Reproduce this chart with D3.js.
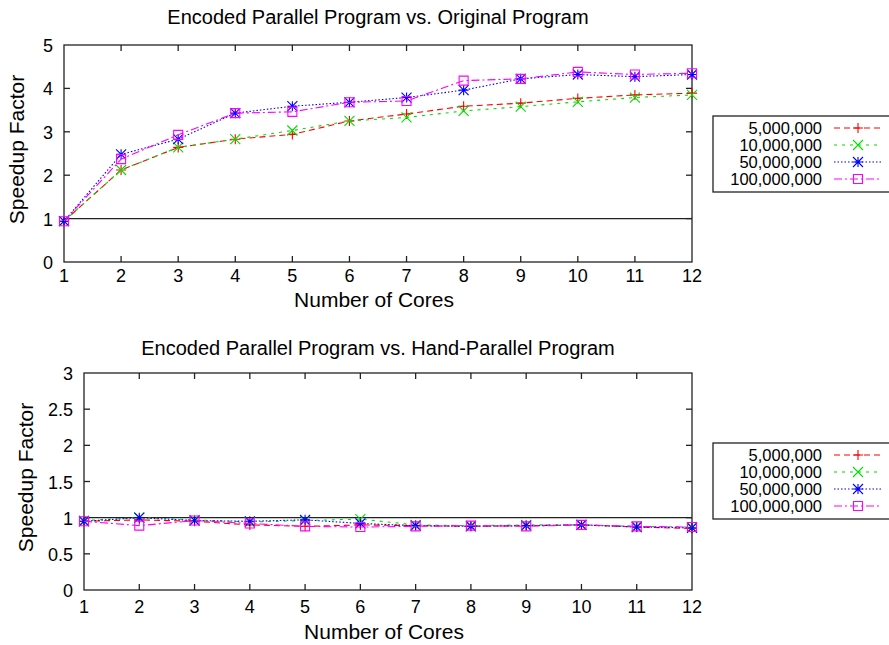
<!DOCTYPE html>
<html>
<head>
<meta charset="utf-8">
<script src="https://cdn.jsdelivr.net/npm/d3@7"></script>
<style>
  body { margin: 0; background: #fff; }
  svg { font-family: "Liberation Sans", Arial, sans-serif; }
</style>
</head>
<body>
<div id="chart"></div>
<script>
// 1. The data
const cores = [1, 2, 3, 4, 5, 6, 7, 8, 9, 10, 11, 12];
const seriesNames = ["5,000,000", "10,000,000", "50,000,000", "100,000,000"];

// speedup vs. original program
const origRed = [0.94, 2.12, 2.64, 2.83, 2.94, 3.25, 3.41, 3.59, 3.66, 3.77, 3.85, 3.89];
const origGreen = [0.94, 2.12, 2.64, 2.83, 3.03, 3.25, 3.33, 3.48, 3.58, 3.69, 3.79, 3.85];
const origBlue = [0.94, 2.48, 2.83, 3.43, 3.59, 3.68, 3.79, 3.96, 4.22, 4.32, 4.27, 4.32];
const origMagenta = [0.94, 2.37, 2.93, 3.43, 3.46, 3.68, 3.71, 4.18, 4.22, 4.38, 4.32, 4.35];

// speedup vs. hand-parallel program
const handRed = [0.95, 0.97, 0.95, 0.9, 0.88, 0.9, 0.89, 0.88, 0.89, 0.9, 0.87, 0.85];
const handGreen = [0.96, 1.0, 0.97, 0.94, 0.96, 0.98, 0.9, 0.89, 0.9, 0.9, 0.88, 0.87];
const handBlue = [0.95, 1.0, 0.96, 0.95, 0.97, 0.92, 0.89, 0.88, 0.89, 0.9, 0.87, 0.86];
const handMagenta = [0.95, 0.89, 0.96, 0.92, 0.88, 0.87, 0.88, 0.89, 0.88, 0.9, 0.88, 0.87];

const topYTicks = [0, 1, 2, 3, 4, 5];
const bottomYTicks = [0, 0.5, 1, 1.5, 2, 2.5, 3];

// 2. Styles for the four series (gnuplot-like)
const styles = [
  { color: "#ff0000", dash: "6,4", marker: "plus" },
  { color: "#00dd00", dash: "3,5", marker: "cross" },
  { color: "#0000ff", dash: "1.5,2", marker: "star" },
  { color: "#ff00ff", dash: "8,3,2,3", marker: "square" }
];

const WIDTH = 889;
const HEIGHT = 645;

const svg = d3.select("#chart")
  .append("svg")
  .attr("width", WIDTH)
  .attr("height", HEIGHT);

function markerPath(type, s) {
  if (type === "plus") return `M${-s},0H${s}M0,${-s}V${s}`;
  if (type === "cross") return `M${-s},${-s}L${s},${s}M${-s},${s}L${s},${-s}`;
  if (type === "star") return `M${-s},0H${s}M0,${-s}V${s}M${-s},${-s}L${s},${s}M${-s},${s}L${s},${-s}`;
  return `M${-s},${-s}H${s}V${s}H${-s}Z`;
}

function drawPanel(cfg) {
  const g = svg.append("g");
  const x = d3.scaleLinear().domain([1, 12]).range([cfg.left, cfg.right]);
  const y = d3.scaleLinear().domain([0, cfg.yMax]).range([cfg.bottom, cfg.top]);

  // frame
  g.append("rect")
    .attr("x", cfg.left).attr("y", cfg.top)
    .attr("width", cfg.right - cfg.left).attr("height", cfg.bottom - cfg.top)
    .attr("fill", "none").attr("stroke", "#222").attr("stroke-width", 1.3);

  // ticks on all four sides, pointing inward
  const tl = 6;
  cores.slice(1, -1).forEach(c => {
    g.append("line").attr("x1", x(c)).attr("x2", x(c)).attr("y1", cfg.bottom).attr("y2", cfg.bottom - tl)
      .attr("stroke", "#222").attr("stroke-width", 1.3);
    g.append("line").attr("x1", x(c)).attr("x2", x(c)).attr("y1", cfg.top).attr("y2", cfg.top + tl)
      .attr("stroke", "#222").attr("stroke-width", 1.3);
  });
  cfg.yTicks.slice(1, -1).forEach(v => {
    g.append("line").attr("x1", cfg.left).attr("x2", cfg.left + tl).attr("y1", y(v)).attr("y2", y(v))
      .attr("stroke", "#222").attr("stroke-width", 1.3);
    g.append("line").attr("x1", cfg.right).attr("x2", cfg.right - tl).attr("y1", y(v)).attr("y2", y(v))
      .attr("stroke", "#222").attr("stroke-width", 1.3);
  });

  // tick labels
  g.selectAll(".xl").data(cores).enter().append("text")
    .attr("x", d => x(d)).attr("y", cfg.bottom + cfg.xTickGap)
    .attr("text-anchor", "middle").attr("font-size", 18).text(d => d);
  g.selectAll(".yl").data(cfg.yTicks).enter().append("text")
    .attr("x", cfg.left - 11).attr("y", d => y(d) + 7)
    .attr("text-anchor", "end").attr("font-size", 18).text(d => d);

  // titles
  g.append("text").attr("x", 378).attr("y", cfg.titleY)
    .attr("text-anchor", "middle").attr("font-size", 20).text(cfg.title);
  g.append("text").attr("x", (cfg.left + cfg.right) / 2 - 4).attr("y", cfg.bottom + cfg.xLabelGap)
    .attr("text-anchor", "middle").attr("font-size", 21).text("Number of Cores");
  g.append("text")
    .attr("transform", `translate(${cfg.ylabelX},${(cfg.top + cfg.bottom) / 2 - 4}) rotate(-90)`)
    .attr("text-anchor", "middle").attr("font-size", 21).text("Speedup Factor");

  // reference line at 1
  g.append("line").attr("x1", cfg.left).attr("x2", cfg.right).attr("y1", y(1)).attr("y2", y(1))
    .attr("stroke", "#222").attr("stroke-width", 1.1);

  const line = d3.line().x((d, i) => x(cores[i])).y(d => y(d));

  cfg.series.forEach((vals, k) => {
    const st = styles[k];
    g.append("path").attr("d", line(vals))
      .attr("fill", "none").attr("stroke", st.color).attr("stroke-width", 1.1)
      .attr("stroke-dasharray", st.dash);
    g.selectAll(null).data(vals).enter().append("path")
      .attr("transform", (d, i) => `translate(${x(cores[i])},${y(d)})`)
      .attr("d", markerPath(st.marker, st.marker === "square" ? 4.5 : 5))
      .attr("fill", "none").attr("stroke", st.color).attr("stroke-width", 1.1);
  });

  // legend
  const lg = g.append("g");
  lg.append("rect").attr("x", 713).attr("y", cfg.legendTop)
    .attr("width", 190).attr("height", 76)
    .attr("fill", "#fff").attr("stroke", "#222").attr("stroke-width", 1.3);
  seriesNames.forEach((name, k) => {
    const st = styles[k];
    const ly = cfg.legendTop + 12 + k * 17;
    lg.append("text").attr("x", 822).attr("y", ly + 6)
      .attr("text-anchor", "end").attr("font-size", 16.5).text(name);
    lg.append("line").attr("x1", 834).attr("x2", 882).attr("y1", ly).attr("y2", ly)
      .attr("stroke", st.color).attr("stroke-width", 1.1).attr("stroke-dasharray", st.dash);
    lg.append("path").attr("transform", `translate(858,${ly})`)
      .attr("d", markerPath(st.marker, st.marker === "square" ? 4.5 : 5))
      .attr("fill", "none").attr("stroke", st.color).attr("stroke-width", 1.1);
  });
}

drawPanel({
  title: "Encoded Parallel Program vs. Original Program",
  left: 64, right: 692, top: 45, bottom: 262, yMax: 5, titleY: 24,
  xTickGap: 20, xLabelGap: 45,
  yTicks: topYTicks, ylabelX: 24, legendTop: 116,
  series: [origRed, origGreen, origBlue, origMagenta]
});

drawPanel({
  title: "Encoded Parallel Program vs. Hand-Parallel Program",
  left: 84, right: 692, top: 373, bottom: 590, yMax: 3, titleY: 355,
  xTickGap: 23, xLabelGap: 49,
  yTicks: bottomYTicks, ylabelX: 33, legendTop: 443,
  series: [handRed, handGreen, handBlue, handMagenta]
});
</script>
</body>
</html>
